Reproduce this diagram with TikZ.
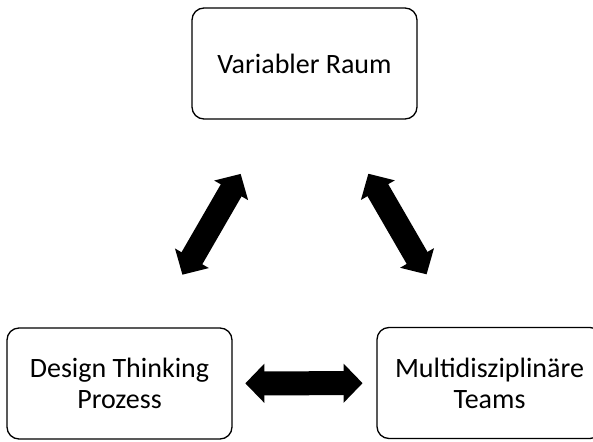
\documentclass[tikz,border=0pt]{standalone}
\usepackage{fontspec}
\setmainfont{Carlito}
\usetikzlibrary{arrows.meta,calc}
\begin{document}
\begin{tikzpicture}[x=1pt,y=-1pt,
  box/.style={draw, line width=1.3pt, rounded corners=12pt, minimum width=225pt,
    minimum height=111pt, align=center, inner sep=0pt,
    font=\fontsize{28}{31}\selectfont},
  bigarrow/.style={line width=24pt,
    {Triangle[length=19pt,width=38pt]}-{Triangle[length=19pt,width=38pt]}}]
\useasboundingbox (0,0) rectangle (593,441);
\clip (0,0) rectangle (593,441);
\node[box] (raum) at (304.5,63.5) {Variabler Raum};
\node[box] (design) at (119.5,383.5) {Design Thinking\\Prozess};
\node[box] (teams) at (489.5,383) {Multidisziplinäre\\Teams};
\draw[bigarrow] ($(raum)!0.345!(design)$) -- ($(raum)!0.66!(design)$);
\draw[bigarrow] ($(raum)!0.345!(teams)$) -- ($(raum)!0.66!(teams)$);
\draw[bigarrow] ($(design)!0.34!(teams)$) -- ($(design)!0.657!(teams)$);
\end{tikzpicture}
\end{document}
